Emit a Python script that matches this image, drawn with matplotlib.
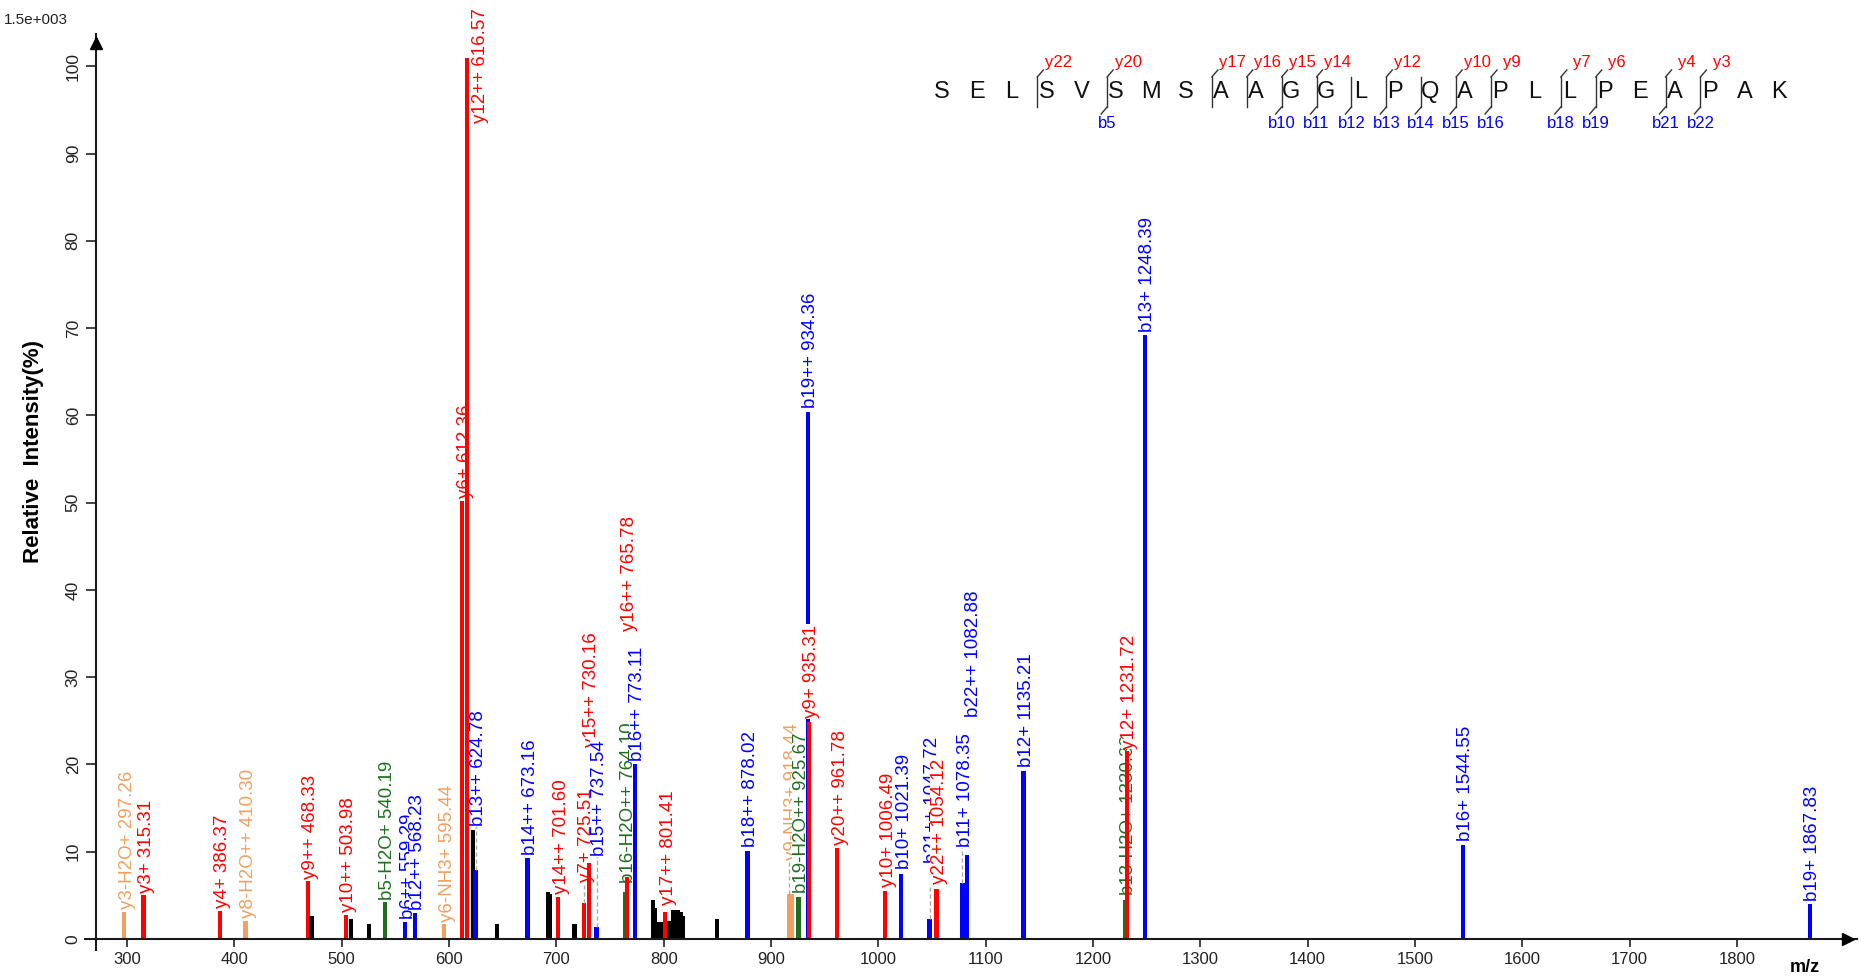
import matplotlib
matplotlib.use('Agg')
import matplotlib.pyplot as plt
from matplotlib.lines import Line2D
import matplotlib.transforms as mtransforms

plt.rcParams['font.family'] = ['Liberation Sans', 'DejaVu Sans']

W, H, DPI = 1861, 977, 100

# ---------------- data ----------------
peak_mz = [297.26, 315.31, 386.37, 410.30, 468.33, 472.0, 503.98, 508.5, 525.5, 540.19,
           559.29, 568.23, 595.44, 612.36, 616.57, 622.5, 624.78, 645.0, 673.16, 692.0,
           694.0, 701.60, 717.0, 725.51, 730.16, 737.54, 764.10, 765.78, 773.11, 790.0,
           792.0, 795.5, 797.5, 801.41, 805.5, 808.5, 811.0, 813.5, 816.0, 818.0,
           850.0, 878.02, 917.2, 919.4, 925.67, 934.36, 935.31, 961.78, 1006.49, 1021.39,
           1047.72, 1054.12, 1078.35, 1082.88, 1135.21, 1230.38, 1231.72, 1248.39, 1544.55, 1867.83]
peak_int = [3.1, 5.0, 3.2, 2.1, 6.6, 2.6, 2.8, 2.3, 1.7, 4.2,
            2.0, 3.0, 1.7, 50.2, 101.0, 12.5, 7.9, 1.7, 9.3, 5.4,
            5.2, 4.8, 1.7, 4.1, 8.7, 1.4, 5.4, 7.1, 20.0, 4.5,
            3.5, 1.9, 1.9, 3.1, 2.1, 3.3, 3.3, 3.3, 3.1, 2.6,
            2.3, 10.1, 5.2, 5.2, 4.85, 60.4, 24.9, 10.45, 5.5, 7.5,
            2.25, 5.7, 6.4, 9.6, 19.2, 4.5, 21.5, 69.2, 10.8, 4.0]
# ion kind: y = y ion, b = b ion, g = b neutral loss, o = y neutral loss, u = unassigned
peak_kind = ['o', 'y', 'y', 'o', 'y', 'u', 'y', 'u', 'u', 'g',
             'b', 'b', 'o', 'y', 'y', 'u', 'b', 'u', 'b', 'u',
             'u', 'y', 'u', 'y', 'y', 'b', 'g', 'y', 'b', 'u',
             'u', 'u', 'u', 'y', 'u', 'u', 'u', 'u', 'u', 'u',
             'u', 'b', 'o', 'o', 'g', 'b', 'y', 'y', 'y', 'b',
             'b', 'y', 'b', 'b', 'b', 'g', 'y', 'b', 'b', 'b']
peak_label = ['y3-H2O+ 297.26', 'y3+ 315.31', 'y4+ 386.37', 'y8-H2O++ 410.30', 'y9++ 468.33', '',
              'y10++ 503.98', '', '', 'b5-H2O+ 540.19',
              'b6++ 559.29', 'b12++ 568.23', 'y6-NH3+ 595.44', 'y6+ 612.36', 'y12++ 616.57', '',
              'b13++ 624.78', '', 'b14++ 673.16', '',
              '', 'y14++ 701.60', '', 'y7+ 725.51', 'y15++ 730.16', 'b15++ 737.54',
              'b16-H2O++ 764.10', 'y16++ 765.78', 'b16++ 773.11', '',
              '', '', '', 'y17++ 801.41', '', '', '', '', '', '',
              '', 'b18++ 878.02', 'y9-NH3+ 918.44', '', 'b19-H2O++ 925.67', 'b19++ 934.36',
              'y9+ 935.31', 'y20++ 961.78', 'y10+ 1006.49', 'b10+ 1021.39',
              'b21++ 1047.72', 'y22++ 1054.12', 'b11+ 1078.35', 'b22++ 1082.88', 'b12+ 1135.21',
              'b13-H2O+ 1230.38', 'y12+ 1231.72', 'b13+ 1248.39', 'b16+ 1544.55', 'b19+ 1867.83']

sequence = list("SELSVSMSAAGGLPQAPLLPEAPAK")
y_ions = [22, 20, 17, 16, 15, 14, 12, 10, 9, 7, 6, 4, 3]
b_ions = [5, 10, 11, 12, 13, 14, 15, 16, 18, 19, 21, 22]

x_ticks = list(range(300, 1900, 100))
y_ticks = list(range(0, 110, 10))

# ---------------- layout (label placement, % height / px shift) ----------------
label_bottom = {
    'y3-H2O+ 297.26': 3.4, 'y3+ 315.31': 5.3, 'y4+ 386.37': 3.5, 'y8-H2O++ 410.30': 2.4,
    'y9++ 468.33': 6.9, 'y10++ 503.98': 3.1, 'b5-H2O+ 540.19': 4.5, 'b6++ 559.29': 2.3,
    'b12++ 568.23': 3.3, 'y6-NH3+ 595.44': 2.0, 'y6+ 612.36': 50.5, 'y12++ 616.57': 93.5,
    'b13++ 624.78': 13.0, 'b14++ 673.16': 9.6, 'y14++ 701.60': 5.1, 'y7+ 725.51': 6.5,
    'y15++ 730.16': 22.0, 'b15++ 737.54': 9.5, 'b16-H2O++ 764.10': 6.4, 'y16++ 765.78': 35.3,
    'b16++ 773.11': 20.4, 'y17++ 801.41': 3.9, 'b18++ 878.02': 10.5, 'y9-NH3+ 918.44': 9.0,
    'b19-H2O++ 925.67': 5.3, 'b19++ 934.36': 60.8, 'y9+ 935.31': 25.3, 'y20++ 961.78': 10.8,
    'y10+ 1006.49': 6.0, 'b10+ 1021.39': 8.0, 'b21++ 1047.72': 8.7, 'y22++ 1054.12': 6.3,
    'b11+ 1078.35': 10.5, 'b22++ 1082.88': 25.4, 'b12+ 1135.21': 19.7,
    'b13-H2O+ 1230.38': 5.0, 'y12+ 1231.72': 21.8, 'b13+ 1248.39': 69.6,
    'b16+ 1544.55': 11.2, 'b19+ 1867.83': 4.4,
}
label_dx = {'y12++ 616.57': 14, 'b22++ 1082.88': 6}

colors = {'y': '#FF0000', 'b': '#0000FF', 'g': '#1F6F1F', 'o': '#F0A060', 'u': '#000000'}

fig = plt.figure(figsize=(W / DPI, H / DPI), dpi=DPI)
ax_left, ax_right, ax_top, ax_bot = 96, 1857, 20, 939
ax = fig.add_axes([ax_left / W, (H - ax_bot) / H, (ax_right - ax_left) / W, (ax_bot - ax_top) / H])
ax.set_xlim(271.1, 1911.9)
ax.set_ylim(0, 105.3)
for sp in ax.spines.values():
    sp.set_visible(False)

axis_col = '#1a1a1a'
ax.add_line(Line2D([-0.0063, 1.0], [0, 0], transform=ax.transAxes, color=axis_col, lw=1.5, clip_on=False, zorder=200))
ax.add_line(Line2D([0, 0], [-0.012, 0.985], transform=ax.transAxes, color=axis_col, lw=1.5, clip_on=False, zorder=200))
ax.plot([0], [0.975], marker='^', ms=9, color='black', transform=ax.transAxes, clip_on=False, zorder=201)
ax.plot([0.995], [0], marker='>', ms=9, color='black', transform=ax.transAxes, clip_on=False, zorder=201)

ax.set_xticks(x_ticks)
ax.set_xticklabels([str(t) for t in x_ticks])
ax.set_yticks(y_ticks)
ax.set_yticklabels([str(t) for t in y_ticks], rotation=90, va='center')
ax.tick_params(axis='x', direction='out', length=6, width=1.2, pad=3, labelsize=12, colors='#222222')
ax.tick_params(axis='y', direction='out', length=7, width=1.2, pad=4, labelsize=12.5, colors='#222222')

for i, (m, h, k, lab) in enumerate(zip(peak_mz, peak_int, peak_kind, peak_label)):
    z = 10 + 3 * i
    c = colors[k]
    ax.bar(m, h, width=4.0, color=c, linewidth=0, zorder=z)
    if lab:
        yb = label_bottom.get(lab, h + 0.3)
        dx = label_dx.get(lab, 3)
        gap = yb - h
        if 1.5 < gap <= 9:
            ax.plot([m, m], [h, yb], color='#AAAAAA', lw=1, ls=(0, (3, 2)), zorder=z + 1)
        tr = mtransforms.offset_copy(ax.transData, fig=fig, x=dx, y=0, units='dots')
        ax.text(m, yb, lab, rotation=90, ha='center', va='bottom', fontsize=13.5, color=c,
                transform=tr, zorder=z + 2,
                bbox=dict(facecolor='white', edgecolor='none', pad=0.5))

# sequence annotation
def fx(x):
    return x / W

def fy(y):
    return 1 - y / H

x0, step, yl = 941.7, 34.9, 92
for i, aa in enumerate(sequence):
    fig.text(fx(x0 + i * step), fy(yl), aa, fontsize=17, ha='center', va='center', color='#111111')

cuts = sorted(set([len(sequence) - n for n in y_ions] + b_ions))
for kcut in cuts:
    xc = x0 + (kcut - 1) * step + 0.74 * step
    has_y = (len(sequence) - kcut) in y_ions
    has_b = kcut in b_ions
    top, bot = 77, 107
    fig.add_artist(Line2D([fx(xc), fx(xc)], [fy(top), fy(bot)], transform=fig.transFigure, color='#333333', lw=1))
    if has_y:
        fig.add_artist(Line2D([fx(xc), fx(xc + 6)], [fy(top), fy(top - 7)], transform=fig.transFigure, color='#333333', lw=1))
        fig.text(fx(xc + 21), fy(62), 'y%d' % (len(sequence) - kcut), fontsize=12, color='#FF0000', ha='center', va='center')
    if has_b:
        fig.add_artist(Line2D([fx(xc), fx(xc - 6)], [fy(bot), fy(bot + 7)], transform=fig.transFigure, color='#333333', lw=1))
        fig.text(fx(xc), fy(124), 'b%d' % kcut, fontsize=12, color='#0000FF', ha='center', va='center')

fig.text(fx(34), fy(451), 'Relative  Intensity(%)', rotation=90, fontweight='bold', fontsize=16, ha='center', va='center')
fig.text(fx(4), fy(20), '1.5e+003', fontsize=11, ha='left', va='center', color='#222222')
fig.text(fx(1805), fy(967), 'm/z', fontweight='bold', fontsize=13, ha='center', va='center')

fig.savefig('out.png', dpi=DPI)
